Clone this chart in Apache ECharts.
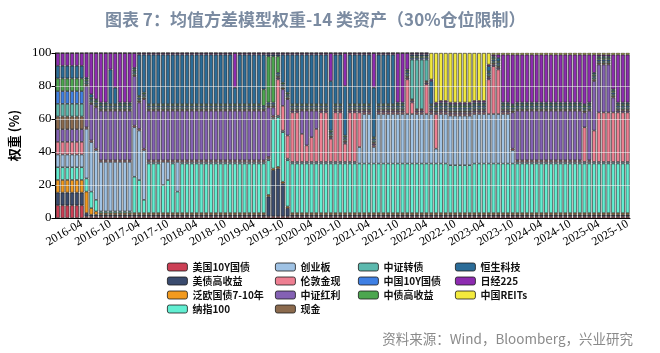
<!DOCTYPE html>
<html>
<head>
<meta charset="utf-8">
<script src="https://cdn.jsdelivr.net/npm/echarts@6/dist/echarts.min.js"></script>
<style>
  html, body { margin: 0; padding: 0; background: #fff; }
  #chart { width: 660px; height: 353px; }
</style>
</head>
<body>
<div id="chart"></div>
<script>
const months = [
  '2015-11','2015-12',
  '2016-01','2016-02','2016-03','2016-04','2016-05','2016-06','2016-07','2016-08','2016-09','2016-10','2016-11','2016-12',
  '2017-01','2017-02','2017-03','2017-04','2017-05','2017-06','2017-07','2017-08','2017-09','2017-10','2017-11','2017-12',
  '2018-01','2018-02','2018-03','2018-04','2018-05','2018-06','2018-07','2018-08','2018-09','2018-10','2018-11','2018-12',
  '2019-01','2019-02','2019-03','2019-04','2019-05','2019-06','2019-07','2019-08','2019-09','2019-10','2019-11','2019-12',
  '2020-01','2020-02','2020-03','2020-04','2020-05','2020-06','2020-07','2020-08','2020-09','2020-10','2020-11','2020-12',
  '2021-01','2021-02','2021-03','2021-04','2021-05','2021-06','2021-07','2021-08','2021-09','2021-10','2021-11','2021-12',
  '2022-01','2022-02','2022-03','2022-04','2022-05','2022-06','2022-07','2022-08','2022-09','2022-10','2022-11','2022-12',
  '2023-01','2023-02','2023-03','2023-04','2023-05','2023-06','2023-07','2023-08','2023-09','2023-10','2023-11','2023-12',
  '2024-01','2024-02','2024-03','2024-04','2024-05','2024-06','2024-07','2024-08','2024-09','2024-10','2024-11','2024-12',
  '2025-01','2025-02','2025-03','2025-04','2025-05','2025-06','2025-07','2025-08','2025-09','2025-10'
]

// weights (%), one value per month, 12 per row
const us10y = [
  7.69,7.69,7.69,7.69,7.69,7.69,1,1,1,1,1,1,
  1,1,1,1,1,1,1,1,1,1,1,1,
  1,1,1,1,1,1,1,1,1,1,1,1,
  1,1,1,1,1,1,1,1,1,1,1,1,
  1,1,1,1,1,1,1,1,1,1,1,1,
  1,1,1,1,1,1,1,1,1,1,1,1,
  1,1,1,1,1,1,1,1,1,1,1,1,
  1,1,1,1,1,1,1,1,1,1,1,1,
  1,1,1,1,1,1,1,1,1,1,1,1,
  1,1,1,1,1,1,1,1,1,1,1,1
]
const usHighYield = [
  7.69,7.69,7.69,7.69,7.69,7.69,2,1,1,1,1,1,
  1,1,1,1,1,1,1,1,1,1,1,1,
  1,1,1,1,1,1,1,1,1,1,1,1,
  1,1,1,1,1,1,1,1,12,28,29,20,
  5,1,1,1,1,1,1,1,1,1,1,1,
  1,1,1,1,1,1,1,1,1,1,1,1,
  1,1,1,1,1,1,1,1,1,1,1,1,
  1,1,1,1,1,1,1,1,1,1,1,1,
  1,1,1,1,1,1,1,1,1,1,1,1,
  1,1,1,1,1,1,1,1,1,1,1,1
]
const euGov = [
  7.69,7.69,7.69,7.69,7.69,7.69,13,4,2,1,1,1,
  1,1,1,1,1,1,1,1,1,1,1,1,
  1,1,1,1,1,1,1,1,1,1,1,1,
  1,1,1,1,1,1,1,1,1,1,1,1,
  1,1,1,1,1,1,1,1,1,1,1,1,
  1,1,1,1,1,1,1,1,1,1,1,1,
  1,1,1,1,1,1,1,1,1,1,1,1,
  1,1,1,1,1,1,1,1,1,1,1,1,
  1,1,1,1,1,1,1,1,1,1,1,1,
  1,1,1,1,1,1,1,1,1,1,1,1
]
const nasdaq = [
  7.69,7.69,7.69,7.69,7.69,7.69,8,10,7,1,1,1,
  1,1,1,1,22,20,8,30,30,30,17,20,
  30,13,30,30,30,30,30,30,30,30,30,30,
  30,30,30,30,30,30,30,30,21,30,30,30,
  28,30,30,30,30,30,30,30,30,30,30,30,
  30,30,30,30,30,30,30,30,30,30,30,30,
  30,30,30,30,30,30,30,30,30,30,29,29,
  29,29,29,30,30,30,30,30,30,30,30,30,
  30,30,30,30,30,30,30,30,30,30,30,30,
  30,30,30,30,30,30,30,30,30,30,30,30
]
const chinext = [
  7.69,7.69,7.69,7.69,7.69,7.69,30,30,30,30,30,30,
  30,30,30,30,30,30,30,1,1,1,14,11,
  1,18,1,1,1,1,1,1,1,1,1,1,
  1,1,1,1,1,1,1,1,1,1,1,1,
  1,1,1,1,1,1,1,1,1,1,1,1,
  1,1,1,10,30,30,10,30,30,30,30,30,
  30,30,30,30,30,30,30,9,30,30,30,30,
  30,30,30,30,30,30,30,30,30,30,30,8,
  1,1,1,1,1,1,1,1,1,1,1,1,
  1,1,1,1,1,1,1,1,1,1,1,1
]
const gold = [
  7.69,7.69,7.69,7.69,7.69,7.69,1,1,1,1,1,1,
  1,1,1,1,1,1,1,1,1,1,1,1,
  1,1,1,1,1,1,1,1,1,1,1,1,
  1,1,1,1,1,1,1,1,1,1,22,15,
  14,30,30,17,10,15,20,30,30,14,30,30,
  11,30,30,21,1,1,1,1,1,1,1,1,
  1,21,7,1,1,18,1,21,1,1,1,1,
  1,1,1,1,1,1,21,29,27,1,1,1,
  1,1,1,1,1,1,1,1,1,1,1,1,
  1,1,21,1,19,30,30,30,30,30,30,30
]
const dividend = [
  7.69,7.69,7.69,7.69,7.69,7.69,25,22,25,30,30,30,
  30,30,30,30,30,16,30,30,30,30,30,30,
  30,30,30,30,30,30,30,30,30,30,30,30,
  30,30,30,30,30,30,30,30,30,5,1,10,
  22,1,1,14,21,16,11,1,1,1,1,1,
  1,1,1,1,1,1,1,1,1,1,1,1,
  1,1,1,1,1,1,1,1,1,1,1,1,
  1,1,1,1,1,1,1,1,1,1,1,22,
  30,30,30,30,30,30,30,30,30,30,30,30,
  30,30,9,30,30,29,29,29,9,1,1,1
]
const cash = [
  7.69,7.69,7.69,7.69,7.69,7.69,1,1,1,1,1,1,
  1,1,1,1,1,1,1,1,1,1,1,1,
  1,1,1,1,1,1,1,1,1,1,1,1,
  1,1,1,1,1,1,1,1,1,1,1,1,
  1,1,1,1,1,1,1,1,1,1,1,1,
  1,1,1,1,1,1,1,1,1,1,1,1,
  1,1,1,1,1,1,1,1,1,1,1,1,
  1,1,1,1,1,1,1,1,1,1,1,1,
  1,1,1,1,1,1,1,1,1,1,1,1,
  1,1,1,1,1,1,1,1,1,1,1,1
]
const convBond = [
  7.69,7.69,7.69,7.69,7.69,7.69,1,1,1,1,1,1,
  1,1,1,1,1,1,1,1,1,1,1,1,
  1,1,1,1,1,1,1,1,1,1,1,1,
  1,1,1,1,1,1,1,1,1,1,1,1,
  1,1,1,1,1,1,1,1,1,1,1,1,
  1,1,1,1,1,1,1,1,1,1,1,1,
  1,1,24,30,30,13,1,1,1,1,1,1,
  1,1,1,1,1,1,1,1,1,1,1,1,
  1,1,1,1,1,1,1,1,1,1,1,1,
  1,1,1,1,1,1,1,1,1,1,1,1
]
const cn10y = [
  7.69,7.69,7.69,7.69,7.69,7.69,1,1,1,1,1,1,
  1,1,1,1,1,1,1,1,1,1,1,1,
  1,1,1,1,1,1,1,1,1,1,1,1,
  1,1,1,1,1,1,1,1,1,1,1,1,
  1,1,1,1,1,1,1,1,1,1,1,1,
  1,1,1,1,1,1,1,1,1,1,1,1,
  1,1,1,1,1,1,1,1,1,1,1,1,
  1,1,1,1,1,1,1,1,1,1,1,1,
  1,1,1,1,1,1,1,1,1,1,1,1,
  1,1,1,1,1,1,1,1,1,1,1,1
]
const cnHighYield = [
  7.69,7.69,7.69,7.69,7.69,7.69,1,1,1,1,1,1,
  1,1,1,1,1,1,1,1,1,1,1,1,
  1,1,1,1,1,1,1,1,1,1,1,1,
  1,1,1,1,1,1,1,10,28,28,10,1,
  1,1,1,1,1,1,1,1,1,1,1,1,
  1,1,1,1,1,1,1,1,1,1,1,1,
  1,1,1,1,1,1,1,1,1,1,1,1,
  1,1,1,1,1,1,1,1,1,1,1,1,
  1,1,1,1,1,1,1,1,1,1,1,1,
  1,1,1,1,1,1,1,1,1,1,1,1
]
const hsTech = [
  7.69,7.69,7.69,7.69,7.69,7.69,1,2,1,1,1,21,
  10,1,1,1,1,25,23,30,30,30,30,30,
  30,30,30,30,30,30,30,30,30,30,30,30,
  30,10,30,30,30,30,30,21,1,1,1,17,
  23,30,30,30,30,30,30,30,30,30,30,30,
  30,30,30,30,30,30,30,30,30,30,30,1,
  1,1,1,1,1,1,14,1,1,1,1,1,
  1,1,1,1,1,1,3,1,2,1,1,1,
  1,1,1,1,1,1,1,1,1,1,1,1,
  1,1,1,1,1,1,1,1,1,1,1,1
]
const nikkei = [
  7.69,7.69,7.69,7.69,7.69,7.69,15,25,28,30,30,10,
  21,30,30,30,9,1,1,1,1,1,1,1,
  1,1,1,1,1,1,1,1,1,1,1,1,
  1,21,1,1,1,1,1,1,1,1,1,1,
  1,1,1,1,1,1,1,1,1,17,1,1,
  20,1,1,1,1,1,21,1,1,1,1,30,
  30,10,1,1,1,1,1,1,1,1,1,1,
  1,1,1,1,1,1,1,1,2,29,29,30,
  29,29,29,29,29,29,29,29,29,29,29,29,
  29,29,30,29,11,1,1,1,21,29,29,29
]
const reits = [
  0,0,0,0,0,0,0,0,0,0,0,0,
  0,0,0,0,0,0,0,0,0,0,0,0,
  0,0,0,0,0,0,0,0,0,0,0,0,
  0,0,0,0,0,0,0,0,0,0,0,0,
  0,0,0,0,0,0,0,0,0,0,0,0,
  0,0,0,0,0,0,0,0,0,0,0,0,
  0,0,0,0,0,0,16,30,29,29,30,30,
  30,30,30,29,29,29,7,1,1,1,1,1,
  1,1,1,1,1,1,1,1,1,1,1,1,
  1,1,1,1,1,1,1,1,1,1,1,1
]

const assetNames = ['美国10Y国债', '美债高收益', '泛欧国债7-10年', '纳指100', '创业板', '伦敦金现', '中证红利',
  '现金', '中证转债', '中国10Y国债', '中债高收益', '恒生科技', '日经225', '中国REITs']
const assetData = [us10y, usHighYield, euGov, nasdaq, chinext, gold, dividend,
  cash, convBond, cn10y, cnHighYield, hsTech, nikkei, reits]
const colors = ['#cc3f55', '#3a4b6e', '#f29a1f', '#62efd2', '#9fc2e4', '#ee7f92', '#8461b4',
  '#8b6a4d', '#5cb9ae', '#3f80e4', '#4ca64f', '#2b6c98', '#8d2bb0', '#f3ea3d']

const showTick = (idx, val) => val.endsWith('-04') || val.endsWith('-10')
const serif = 'Liberation Serif'
const cjk = 'Noto Sans CJK SC'

const series = assetNames.map((name, i) => ({
  name: name,
  type: 'bar',
  stack: 'w',
  barWidth: '82%',
  data: assetData[i],
  itemStyle: { color: colors[i], borderColor: '#1a1a1a', borderWidth: 0.6 },
  emphasis: { disabled: true }
}))
series[series.length - 1].markLine = {
  silent: true,
  symbol: 'none',
  label: { show: false },
  lineStyle: { color: 'rgba(255,255,255,0.5)', type: 'solid', width: 1 },
  data: [{ yAxis: 20 }, { yAxis: 40 }, { yAxis: 60 }, { yAxis: 80 }]
}

function legendCol(left, names) {
  return {
    orient: 'vertical',
    left: left,
    top: 256,
    itemWidth: 20,
    itemHeight: 8,
    itemGap: 2,
    selectedMode: false,
    data: names,
    itemStyle: { borderColor: '#1a1a1a', borderWidth: 0.8 },
    textStyle: { fontFamily: cjk, fontSize: 10, fontWeight: 'bold', color: '#111', lineHeight: 12 }
  }
}

const chart = echarts.init(document.getElementById('chart'))
chart.setOption({
  animation: false,
  color: colors,
  title: {
    text: '图表 7：均值方差模型权重-14 类资产（30%仓位限制）',
    left: 100,
    top: 6,
    textStyle: { fontFamily: cjk, fontSize: 17, fontWeight: 'bold', color: '#7b8ba1' }
  },
  legend: [
    legendCol(162, assetNames.slice(0, 4)),
    legendCol(270, assetNames.slice(4, 8)),
    legendCol(353, assetNames.slice(8, 11)),
    legendCol(450, assetNames.slice(11, 14))
  ],
  grid: { left: 52, right: 30, top: 53, height: 165 },
  xAxis: {
    type: 'category',
    data: months,
    axisLine: { lineStyle: { color: '#000', width: 1 } },
    axisTick: { interval: showTick, alignWithLabel: true, length: 3, lineStyle: { color: '#000' } },
    axisLabel: { interval: showTick, rotate: 30, margin: 5, fontFamily: serif, fontSize: 12, color: '#000' }
  },
  yAxis: {
    type: 'value',
    min: 0,
    max: 100,
    interval: 20,
    name: '权重 (%)',
    nameLocation: 'middle',
    nameGap: 30,
    nameTextStyle: { fontFamily: cjk, fontSize: 13, fontWeight: 'bold', color: '#000' },
    axisLine: { show: true, lineStyle: { color: '#000', width: 1 } },
    axisTick: { show: true, length: 4, lineStyle: { color: '#000' } },
    axisLabel: { fontFamily: serif, fontSize: 13, color: '#000', margin: 4 },
    splitLine: { show: false }
  },
  graphic: [{
    type: 'text',
    right: 27,
    top: 332,
    style: {
      text: '资料来源：Wind，Bloomberg，兴业研究',
      font: '13.5px "Noto Sans CJK SC"',
      fill: '#8a8a8a'
    }
  }],
  series: series
})
</script>
</body>
</html>
